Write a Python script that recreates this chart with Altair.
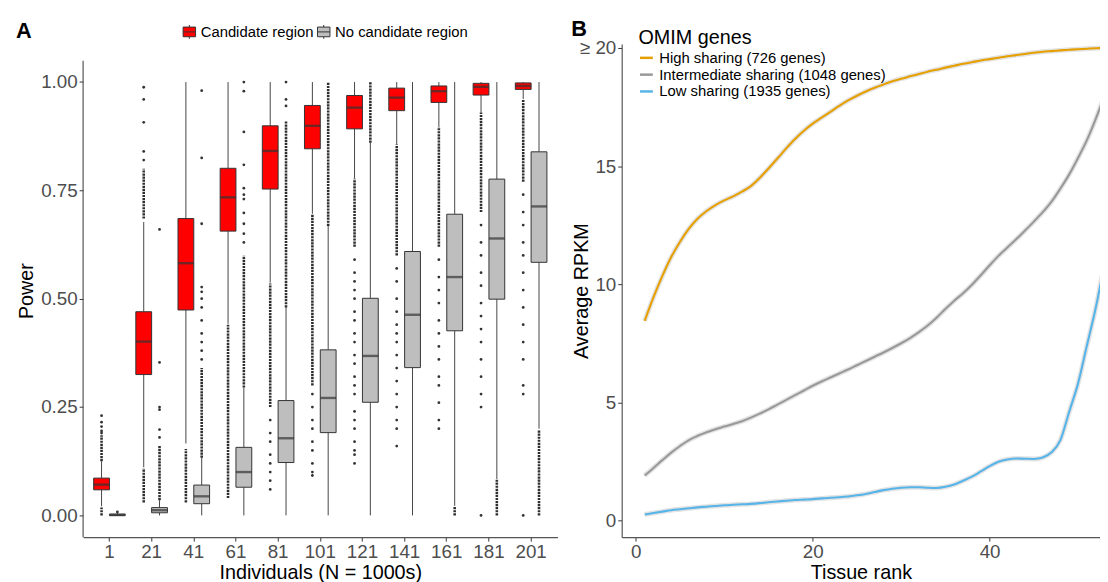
import altair as alt
import pandas as pd

# ---------------- Panel A data ----------------
N_labels = ["1", "21", "41", "61", "81", "101", "121", "141", "161", "181", "201"]
groups = ["Candidate region", "No candidate region"]

cand_q1 = [0.059, 0.325, 0.474, 0.656, 0.753, 0.846, 0.892, 0.934, 0.953, 0.970, 0.983]
cand_med = [0.071, 0.401, 0.582, 0.734, 0.841, 0.899, 0.941, 0.964, 0.979, 0.989, 0.991]
cand_q3 = [0.086, 0.470, 0.685, 0.801, 0.899, 0.946, 0.969, 0.986, 0.991, 0.997, 0.998]
cand_lo = [0.021, 0.111, 0.166, 0.442, 0.537, 0.696, 0.777, 0.856, 0.896, 0.930, 0.961]
cand_hi = [0.125, 0.677, 1.0, 1.0, 1.0, 1.0, 1.0, 1.0, 1.0, 1.0, 1.0]

nocand_q1 = [0.0, 0.006, 0.027, 0.065, 0.122, 0.191, 0.261, 0.341, 0.426, 0.499, 0.584]
nocand_med = [0.001, 0.012, 0.044, 0.100, 0.178, 0.271, 0.368, 0.463, 0.550, 0.639, 0.713]
nocand_q3 = [0.003, 0.018, 0.070, 0.157, 0.265, 0.382, 0.501, 0.609, 0.695, 0.776, 0.839]
nocand_lo = [0.0, 0.0, 0.0, 0.0, 0.0, 0.0, 0.0, 0.0, 0.022, 0.084, 0.2]
nocand_hi = [0.007, 0.035, 0.133, 0.295, 0.48, 0.668, 0.86, 1.0, 1.0, 1.0, 1.0]

# runs of densely packed outliers (low, high) per box
cand_dense = [
    [(0.125, 0.185), (0.0, 0.018)],
    [(0.685, 0.80), (0.03, 0.108)],
    [(0.03, 0.153)],
    [(0.04, 0.44)],
    [(0.25, 0.535)],
    [(0.30, 0.696)],
    [(0.62, 0.777)],
    [(0.60, 0.856)],
    [(0.62, 0.896)],
    [(0.70, 0.93)],
    [(0.77, 0.961)],
]
nocand_dense = [
    [],
    [(0.035, 0.16)],
    [(0.133, 0.34)],
    [(0.295, 0.60)],
    [(0.48, 0.91)],
    [(0.668, 1.0)],
    [(0.86, 1.0)],
    [],
    [(0.0, 0.02)],
    [(0.0, 0.082)],
    [(0.0, 0.198)],
]
# isolated outliers per box
cand_sparse = [
    [0.19, 0.195, 0.205, 0.215, 0.23],
    [0.82, 0.84, 0.907, 0.96, 0.988],
    [],
    [],
    [0.06, 0.08, 0.10, 0.12, 0.14, 0.17, 0.19, 0.22],
    [0.092, 0.1, 0.12, 0.15, 0.17, 0.2, 0.22, 0.25, 0.28],
    [0.12, 0.14, 0.15, 0.17, 0.2, 0.22, 0.24, 0.28, 0.30, 0.32, 0.35, 0.37, 0.40,
     0.42, 0.45, 0.47, 0.50, 0.52, 0.54, 0.56, 0.59],
    [0.16, 0.2, 0.22, 0.25, 0.28, 0.31, 0.34, 0.37, 0.40, 0.42, 0.44, 0.47, 0.5, 0.54, 0.57],
    [0.2, 0.22, 0.26, 0.30, 0.32, 0.36, 0.39, 0.42, 0.45, 0.49, 0.52, 0.55, 0.59],
    [0.0, 0.25, 0.28, 0.32, 0.36, 0.40, 0.43, 0.46, 0.49, 0.53, 0.56, 0.6, 0.63, 0.67],
    [0.0, 0.28, 0.30, 0.36, 0.40, 0.44, 0.48, 0.52, 0.56, 0.6, 0.63, 0.67, 0.70, 0.74],
]
nocand_sparse = [
    [0.008],
    [0.18, 0.198, 0.244, 0.25, 0.353, 0.66],
    [0.36, 0.38, 0.40, 0.42, 0.45, 0.48, 0.50, 0.516, 0.527, 0.673, 0.825, 0.98],
    [0.63, 0.65, 0.673, 0.698, 0.73, 0.74, 0.755, 0.809, 0.885, 0.979, 1.0],
    [0.945, 0.96, 1.0],
    [], [], [], [], [], [],
]

# ---------------- Panel B data ----------------
tissue_rank = list(range(1, 54))
series_names = ["High sharing (726 genes)", "Intermediate sharing (1048 genes)",
                "Low sharing (1935 genes)"]
series_colors = ["#E69F00", "#999999", "#56B4E9"]
high_rpkm = [8.45, 9.45, 10.35, 11.15, 11.8, 12.35, 12.78, 13.1, 13.35, 13.55,
             13.72, 13.92, 14.15, 14.5, 14.9, 15.32, 15.75, 16.15, 16.5, 16.8,
             17.05, 17.3, 17.55, 17.78, 17.98, 18.16, 18.32, 18.46, 18.59, 18.7,
             18.8, 18.9, 19.0, 19.08, 19.17, 19.25, 19.33, 19.4, 19.47, 19.53,
             19.59, 19.65, 19.7, 19.75, 19.8, 19.84, 19.87, 19.9, 19.93, 19.95,
             19.97, 19.99, 20.0]
inter_rpkm = [1.9, 2.22, 2.55, 2.87, 3.15, 3.4, 3.58, 3.73, 3.86, 3.97,
              4.08, 4.2, 4.35, 4.52, 4.7, 4.9, 5.1, 5.3, 5.5, 5.7,
              5.88, 6.05, 6.22, 6.39, 6.57, 6.75, 6.93, 7.11, 7.3, 7.5,
              7.72, 7.97, 8.25, 8.58, 8.95, 9.3, 9.62, 9.98, 10.38, 10.8,
              11.2, 11.55, 11.9, 12.27, 12.65, 13.05, 13.5, 14.05, 14.65, 15.35,
              16.1, 17.0, 18.0]
low_rpkm = [0.25, 0.31, 0.37, 0.43, 0.47, 0.51, 0.55, 0.58, 0.61, 0.64,
            0.66, 0.68, 0.7, 0.73, 0.77, 0.8, 0.83, 0.86, 0.88, 0.9,
            0.93, 0.96, 0.98, 1.01, 1.06, 1.12, 1.2, 1.28, 1.34, 1.38,
            1.4, 1.4, 1.38, 1.37, 1.42, 1.52, 1.68, 1.85, 2.07, 2.3,
            2.48, 2.58, 2.62, 2.61, 2.6, 2.66, 2.88, 3.4, 4.6, 5.8,
            7.4, 9.0, 10.9]

FONT = "Liberation Sans"

# ---------------- build tables ----------------
box_rows, dense_rows, sparse_rows = [], [], []
for g, q1, md, q3, lo, hi, dn, sp in [
    (groups[0], cand_q1, cand_med, cand_q3, cand_lo, cand_hi, cand_dense, cand_sparse),
    (groups[1], nocand_q1, nocand_med, nocand_q3, nocand_lo, nocand_hi, nocand_dense, nocand_sparse),
]:
    for i, n in enumerate(N_labels):
        box_rows.append(dict(N=n, group=g, q1=q1[i], med=md[i], q3=q3[i], lo=lo[i], hi=hi[i]))
        for a, b in dn[i]:
            dense_rows.append(dict(N=n, group=g, a=a, b=b))
        for v in sp[i]:
            sparse_rows.append(dict(N=n, group=g, v=v))
box_df = pd.DataFrame(box_rows)
dense_df = pd.DataFrame(dense_rows)
sparse_df = pd.DataFrame(sparse_rows)

yA_scale = alt.Scale(domain=[-0.0502, 1.0878], nice=False, zero=False)
yA_axis = alt.Axis(values=[0, 0.25, 0.5, 0.75, 1.0], format=".2f", domain=False, grid=False,
                   tickColor="#333333", tickSize=4, labelFontSize=19, labelColor="#4D4D4D",
                   labelPadding=2, title="Power", titleFontSize=20, titleFontWeight="normal",
                   titleColor="black", titlePadding=4, labelFont=FONT, titleFont=FONT)
xA_axis = alt.Axis(labelAngle=0, labelFontSize=19, labelColor="#4D4D4D", tickSize=4,
                   tickColor="#333333", domainColor="#555555", domainWidth=1.2, grid=False,
                   title="Individuals (N = 1000s)", titleFontSize=20, titleFontWeight="normal",
                   titleColor="black", titlePadding=1, labelPadding=2, labelFont=FONT, titleFont=FONT)

xA = alt.X("N:N", sort=N_labels,
           scale=alt.Scale(domain=N_labels, paddingInner=0, paddingOuter=0.125), axis=xA_axis)
xoff = alt.XOffset("group:N", scale=alt.Scale(domain=groups, paddingInner=0, paddingOuter=0.334))

def yA(field):
    return alt.Y(field, scale=yA_scale, axis=yA_axis)

axis_line = alt.Chart(pd.DataFrame({"a": [-0.0502], "b": [1.049]})).mark_rule(
    color="#555555", strokeWidth=1.2).encode(x=alt.value(0), y=yA("a:Q"), y2="b:Q")

whisk_lo = alt.Chart(box_df).mark_rule(color="#444444", strokeWidth=1).encode(
    x=xA, xOffset=xoff, y=yA("lo:Q"), y2="q1:Q")
whisk_hi = alt.Chart(box_df).mark_rule(color="#444444", strokeWidth=1).encode(
    x=xA, xOffset=xoff, y=yA("q3:Q"), y2="hi:Q")
dense = alt.Chart(dense_df).mark_rule(color="#2E2E2E", strokeWidth=2.6,
                                      strokeDash=[2.2, 0.9]).encode(
    x=xA, xOffset=xoff, y=yA("a:Q"), y2="b:Q")
sparse = alt.Chart(sparse_df).mark_circle(color="#333333", size=8, opacity=1).encode(
    x=xA, xOffset=xoff, y=yA("v:Q"))

box_key = "M-0.9,-0.7H0.9V0.7H-0.9Z M-0.9,0H0.9 M0,-0.7V-1 M0,0.7V1"
boxes = alt.Chart(box_df).mark_bar(stroke="#333333", strokeWidth=1).encode(
    x=xA, xOffset=xoff, y=yA("q1:Q"), y2="q3:Q",
    fill=alt.Fill("group:N", scale=alt.Scale(domain=groups, range=["#FF0000", "#BEBEBE"]),
                  legend=alt.Legend(title=None, orient="none", direction="horizontal",
                                    legendX=100, legendY=-20, symbolType=box_key,
                                    symbolSize=196, symbolStrokeColor="#333333",
                                    symbolStrokeWidth=1, labelFontSize=15, labelFont=FONT,
                                    labelColor="black", labelOffset=4, columnPadding=1)))
medians = alt.Chart(box_df).mark_tick(color="#333333", thickness=2.4, size=16).encode(
    x=xA, xOffset=xoff, y=yA("med:Q"))
labelA = alt.Chart(pd.DataFrame({"t": ["A"]})).mark_text(
    fontSize=22, fontWeight="bold", font=FONT, align="left", baseline="alphabetic",
    color="black").encode(text="t:N", x=alt.value(-68), y=alt.value(-6))

panelA = alt.layer(axis_line, whisk_lo, whisk_hi, dense, sparse, boxes, medians, labelA).properties(
    width=480, height=499)

# ---------------- Panel B ----------------
line_rows = []
for name, vals in zip(series_names, [high_rpkm, inter_rpkm, low_rpkm]):
    for r, v in zip(tissue_rank, vals):
        line_rows.append(dict(rank=r, rpkm=v, series=name))
line_df = pd.DataFrame(line_rows)

xB = alt.X("rank:Q", scale=alt.Scale(domain=[-1.6, 52.48], nice=False, zero=False),
           axis=alt.Axis(values=[0, 20, 40], grid=False, tickColor="#333333", tickSize=4,
                         domainColor="#555555", domainWidth=1.2, labelFontSize=19,
                         labelColor="#4D4D4D", labelPadding=2, title="Tissue rank",
                         titleFontSize=20, titleFontWeight="normal", titleColor="black",
                         titlePadding=1, labelFont=FONT, titleFont=FONT))
yB = alt.Y("rpkm:Q", scale=alt.Scale(domain=[-0.71, 20.17], nice=False, zero=False),
           axis=alt.Axis(values=[0, 5, 10, 15, 20], grid=False, tickColor="#333333", tickSize=4,
                         domainColor="#555555", domainWidth=1.2, labelFontSize=19,
                         labelColor="#4D4D4D", labelPadding=2,
                         labelExpr="datum.value == 20 ? '\u2265 20' : datum.label",
                         title="Average RPKM", titleFontSize=20, titleFontWeight="normal",
                         titleColor="black", titleX=-31, labelFont=FONT, titleFont=FONT))

halo = alt.Chart(line_df).mark_line(interpolate="monotone", clip=True, strokeWidth=5,
                                    color="#C8C8C8", opacity=0.5).encode(
    x=xB, y=yB, detail="series:N")
lines = alt.Chart(line_df).mark_line(interpolate="monotone", clip=True, strokeWidth=2.1).encode(
    x=xB, y=yB,
    color=alt.Color("series:N", scale=alt.Scale(domain=series_names, range=series_colors),
                    legend=alt.Legend(title="OMIM genes", orient="none", legendX=562, legendY=-16,
                                      titleFontSize=20, titleFontWeight="normal",
                                      titleColor="black", titleFont=FONT, titlePadding=2,
                                      labelFontSize=15, labelFont=FONT, labelColor="black",
                                      symbolType="stroke", symbolSize=169,
                                      symbolStrokeWidth=2.5, rowPadding=1, labelOffset=5,
                                      labelLimit=400)))
labelB = alt.Chart(pd.DataFrame({"t": ["B"]})).mark_text(
    fontSize=22, fontWeight="bold", font=FONT, align="left", baseline="alphabetic",
    color="black").encode(text="t:N", x=alt.value(-51), y=alt.value(-8))

panelB = alt.layer(halo, lines, labelB).properties(width=484, height=499)

chart = alt.hconcat(panelA, panelB, spacing=14).configure(
    font=FONT, padding={"left": 8, "top": 7, "right": 0, "bottom": 0}
).configure_view(stroke=None)

chart.save("out.html", embed_options={"renderer": "svg", "actions": False})
